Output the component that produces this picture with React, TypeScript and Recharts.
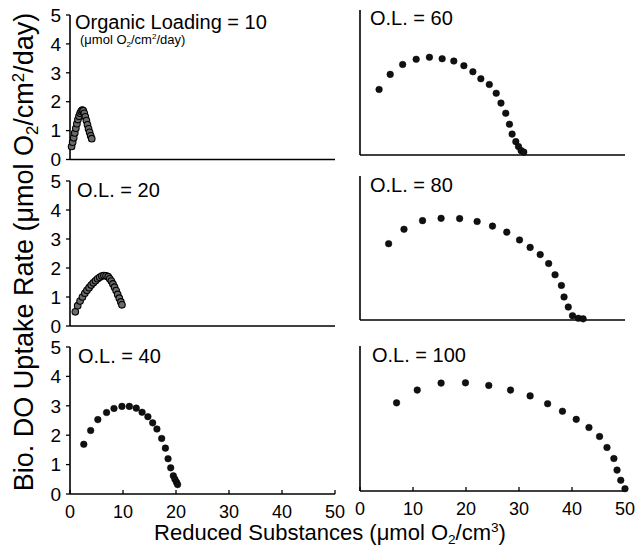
import React from 'react';
import { ScatterChart, Scatter, XAxis, YAxis } from 'recharts';

const FONT = "'Liberation Sans', Arial, Helvetica, sans-serif";

const X_TICKS = [0, 10, 20, 30, 40, 50];
const Y_TICKS = [0, 1, 2, 3, 4, 5];

// [reduced substances, uptake rate]
const ol10: number[][] = [
  [0.3, 0.45], [0.5, 0.6], [0.7, 0.75], [0.9, 0.92], [1.1, 1.08], [1.3, 1.24], [1.5, 1.38],
  [1.7, 1.5], [1.9, 1.6], [2.1, 1.67], [2.3, 1.71], [2.5, 1.69], [2.7, 1.6], [2.9, 1.48],
  [3.1, 1.35], [3.3, 1.2], [3.5, 1.06], [3.7, 0.94], [3.9, 0.82], [4.1, 0.72],
];
const ol20: number[][] = [
  [1.0, 0.49], [1.45, 0.7], [1.9, 0.86], [2.35, 1.0], [2.8, 1.13], [3.2, 1.23], [3.6, 1.32],
  [4.0, 1.41], [4.4, 1.49], [4.8, 1.56], [5.2, 1.63], [5.6, 1.68], [6.0, 1.72], [6.4, 1.74],
  [6.8, 1.73], [7.2, 1.7], [7.5, 1.63], [7.8, 1.55], [8.1, 1.45], [8.4, 1.34], [8.7, 1.22],
  [9.0, 1.09], [9.3, 0.96], [9.6, 0.83], [9.8, 0.73],
];
const ol40: number[][] = [
  [2.6, 1.69], [3.9, 2.16], [5.25, 2.53], [6.9, 2.77], [8.3, 2.91], [9.8, 2.98], [11.2, 2.98],
  [12.5, 2.92], [13.6, 2.78], [14.7, 2.63], [15.6, 2.42], [16.4, 2.21], [17.3, 1.89],
  [18.0, 1.56], [18.5, 1.2], [19.0, 0.89], [19.5, 0.62], [19.8, 0.5], [20.1, 0.4], [20.3, 0.32],
];
const ol60: number[][] = [
  [3.6, 2.26], [5.7, 2.78], [8.05, 3.12], [10.6, 3.3], [13.1, 3.37], [15.5, 3.32], [17.7, 3.24],
  [19.6, 3.08], [21.3, 2.87], [22.8, 2.63], [24.4, 2.43], [25.7, 2.13], [26.6, 1.79],
  [27.5, 1.44], [28.2, 1.06], [28.7, 0.72], [29.4, 0.46], [29.9, 0.29], [30.4, 0.15], [30.9, 0.1],
];
const ol80: number[][] = [
  [5.4, 2.65], [8.3, 3.15], [11.8, 3.45], [15.3, 3.53], [18.8, 3.52], [22.1, 3.42], [25.0, 3.26],
  [27.7, 3.05], [30.1, 2.78], [32.1, 2.52], [34.0, 2.27], [35.6, 1.96], [36.8, 1.57],
  [38.0, 1.2], [38.5, 0.8], [39.3, 0.45], [40.1, 0.15], [41.2, 0.06], [42.1, 0.04],
];
const ol100: number[][] = [
  [6.9, 3.04], [10.8, 3.48], [15.3, 3.72], [19.9, 3.73], [24.3, 3.64], [28.4, 3.48], [32.1, 3.28],
  [35.4, 3.01], [38.2, 2.75], [40.8, 2.47], [43.2, 2.19], [45.2, 1.88], [46.6, 1.5],
  [47.9, 1.12], [48.5, 0.72], [49.2, 0.37], [50.0, 0.08],
];

const toRows = (arr: number[][]) => arr.map(([x, y]) => ({ x, y }));

type Rect = { x0: number; x1: number; yT: number; yB: number };

function Panel({ data, rect, yLabels, xLabels, dense }: { data: number[][]; rect: Rect; yLabels: boolean; xLabels: boolean; dense: boolean }) {
  const ML = 65, MT = 12, MR = 14, MB = 35;
  const w = rect.x1 - rect.x0 + ML + MR;
  const h = rect.yB - rect.yT + MT + MB;
  const dot = (p: any) => (
    <circle
      cx={p.cx}
      cy={p.cy}
      r={3.3}
      fill={dense ? '#6a6a6a' : '#111'}
      stroke="#000"
      strokeWidth={dense ? 1.1 : 0.5}
    />
  );
  return (
    <div style={{ position: 'absolute', left: rect.x0 - ML, top: rect.yT - MT, width: w, height: h }}>
      <ScatterChart width={w} height={h} margin={{ top: MT, right: MR, bottom: 0, left: 0 }}>
        <XAxis
          type="number"
          dataKey="x"
          domain={[0, 50]}
          ticks={X_TICKS}
          interval={0}
          height={MB}
          tickSize={-4}
          tickMargin={15}
          axisLine={{ stroke: '#000', strokeWidth: 1.6 }}
          tickLine={{ stroke: '#000', strokeWidth: 1.3 }}
          tick={xLabels ? { fill: '#000', fontSize: 18, fontFamily: FONT } : false}
        />
        <YAxis
          type="number"
          dataKey="y"
          domain={[0, 5]}
          ticks={Y_TICKS}
          interval={0}
          width={ML}
          tickSize={4}
          tickMargin={5}
          axisLine={{ stroke: '#000', strokeWidth: 1.6 }}
          tickLine={{ stroke: '#000', strokeWidth: 1.3 }}
          tick={yLabels ? { fill: '#000', fontSize: 19, fontFamily: FONT } : false}
        />
        <Scatter data={toRows(data)} isAnimationActive={false} shape={dot} />
      </ScatterChart>
    </div>
  );
}

const sub = { fontSize: '0.62em' } as const;

export default function App() {
  return (
    <div style={{ position: 'absolute', left: 0, top: 0, width: 639, height: 550, background: '#fff', fontFamily: FONT }}>
      <Panel data={ol10} rect={{ x0: 69.5, x1: 334.5, yT: 15, yB: 159.5 }} yLabels xLabels={false} dense />
      <Panel data={ol20} rect={{ x0: 69.5, x1: 334.5, yT: 181, yB: 326 }} yLabels xLabels={false} dense />
      <Panel data={ol40} rect={{ x0: 69.5, x1: 334.5, yT: 347, yB: 494 }} yLabels xLabels dense={false} />
      <Panel data={ol60} rect={{ x0: 360, x1: 625, yT: 10, yB: 155 }} yLabels={false} xLabels={false} dense={false} />
      <Panel data={ol80} rect={{ x0: 360, x1: 625, yT: 176, yB: 320 }} yLabels={false} xLabels={false} dense={false} />
      <Panel data={ol100} rect={{ x0: 360, x1: 625, yT: 346, yB: 491 }} yLabels={false} xLabels dense={false} />
      <svg width={639} height={550} style={{ position: 'absolute', left: 0, top: 0, pointerEvents: 'none' }} fontFamily={FONT} fill="#000">
        <text x={75} y={29} fontSize={20}>Organic Loading = 10</text>
        <text x={80} y={44} fontSize={13}>
          (μmol O<tspan style={sub} dy={3}>2</tspan><tspan dy={-3}>/cm</tspan><tspan style={sub} dy={-5}>2</tspan><tspan dy={5}>/day)</tspan>
        </text>
        <text x={77} y={197} fontSize={20}>O.L. = 20</text>
        <text x={78} y={363} fontSize={20}>O.L. = 40</text>
        <text x={370} y={25} fontSize={20}>O.L. = 60</text>
        <text x={370} y={192} fontSize={20}>O.L. = 80</text>
        <text x={372} y={362} fontSize={20}>O.L. = 100</text>
        <text x={330} y={540} fontSize={22} textAnchor="middle">
          Reduced Substances (μmol O<tspan style={sub} dy={4}>2</tspan><tspan dy={-4}>/cm</tspan><tspan style={sub} dy={-8}>3</tspan><tspan dy={8}>)</tspan>
        </text>
        <text x={33} y={252} fontSize={27} textAnchor="middle" transform="rotate(-90 33 252)">
          Bio. DO Uptake Rate (μmol O<tspan style={sub} dy={5}>2</tspan><tspan dy={-5}>/cm</tspan><tspan style={sub} dy={-9}>2</tspan><tspan dy={9}>/day)</tspan>
        </text>
      </svg>
    </div>
  );
}
